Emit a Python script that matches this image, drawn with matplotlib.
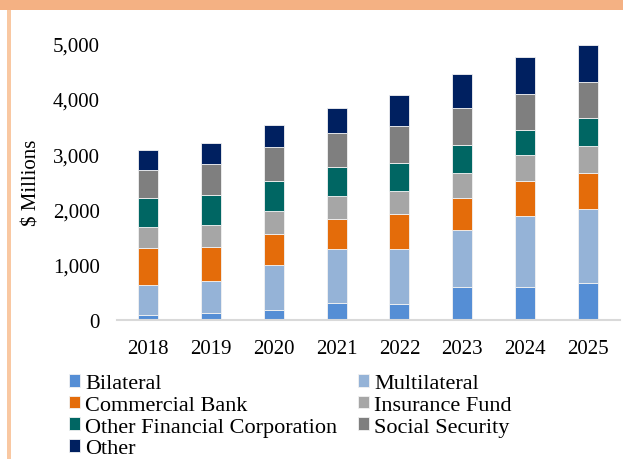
import matplotlib
matplotlib.use("Agg")
import matplotlib.pyplot as plt
from matplotlib.patches import Rectangle
from matplotlib.ticker import FuncFormatter
import numpy as np

plt.rcParams['font.family'] = ['Liberation Serif', 'DejaVu Serif']

years = ['2018', '2019', '2020', '2021', '2022', '2023', '2024', '2025']

# $ millions by creditor type
bilateral = [85, 132, 186, 313, 295, 602, 596, 673]
multilateral = [552, 566, 807, 963, 981, 1023, 1287, 1343]
commercial_bank = [657, 625, 565, 553, 637, 583, 632, 650]
insurance_fund = [385, 392, 415, 421, 428, 451, 463, 475]
other_fin_corp = [523, 547, 541, 518, 499, 506, 457, 511]
social_security = [511, 554, 609, 614, 662, 662, 662, 662]
other = [368, 379, 397, 451, 565, 626, 663, 655]

series = [
    ('Bilateral', bilateral, '#558ED5'),
    ('Multilateral', multilateral, '#95B3D7'),
    ('Commercial Bank', commercial_bank, '#E46C0A'),
    ('Insurance Fund', insurance_fund, '#A6A6A6'),
    ('Other Financial Corporation', other_fin_corp, '#006663'),
    ('Social Security', social_security, '#7F7F7F'),
    ('Other', other, '#002060'),
]

fig = plt.figure(figsize=(6.23, 4.60), dpi=100)

# peach frame: thick band on top, thin line down the left
fig.patches.append(Rectangle((0, 1 - 11 / 460), 1, 11 / 460, transform=fig.transFigure,
                             facecolor='#F4B183', edgecolor='none', zorder=0))
fig.patches.append(Rectangle((7 / 623, 0), 4 / 623, 1 - 11 / 460, transform=fig.transFigure,
                             facecolor='#F9C8A2', edgecolor='none', zorder=0))

ax = fig.add_axes([116.5 / 623, 1 - 321 / 460, 503 / 623, 276.4 / 460])

x = np.arange(len(years))
bottom = np.zeros(len(years))
handles = {}
for name, vals, color in series:
    b = ax.bar(x, vals, width=0.32, bottom=bottom, color=color,
               edgecolor='#F2F2F2', linewidth=0.6, label=name, zorder=2)
    handles[name] = b
    bottom += np.array(vals)

ax.set_xlim(-0.5, len(years) - 0.5)
ax.set_ylim(0, 5000)
ax.set_yticks(range(0, 5001, 1000))
ax.yaxis.set_major_formatter(FuncFormatter(lambda v, p: f'{int(v):,}'))
ax.set_xticks(x)
ax.set_xticklabels(years)

for side in ['top', 'right', 'left']:
    ax.spines[side].set_visible(False)
ax.spines['bottom'].set_color('#D9D9D9')
ax.spines['bottom'].set_linewidth(1.5)
ax.tick_params(axis='both', length=0, labelsize=15)
ax.tick_params(axis='y', pad=12)
ax.tick_params(axis='x', pad=14)

ax.set_ylabel('$ Millions', fontsize=15, labelpad=8)

order = ['Bilateral', 'Commercial Bank', 'Other Financial Corporation', 'Other',
         'Multilateral', 'Insurance Fund', 'Social Security']
fig.legend([handles[n] for n in order], order, ncol=2, frameon=False,
           loc='upper left', bbox_to_anchor=(69 / 623, 1 - 375 / 460),
           fontsize=16, handlelength=0.5, handleheight=0.5, handletextpad=0.22,
           labelspacing=0.11, columnspacing=0.95, borderpad=0, borderaxespad=0)

fig.savefig('out.png', dpi=100)
